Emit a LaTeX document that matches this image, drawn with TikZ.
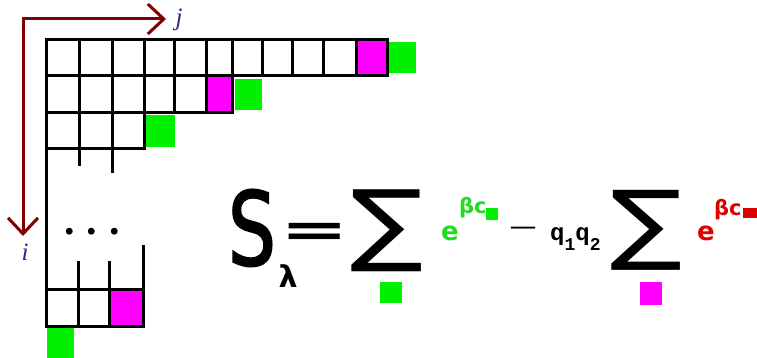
\documentclass[tikz,border=0pt]{standalone}
\usepackage{fontspec}
\usepackage{graphicx}
\usetikzlibrary{arrows.meta}
\newfontfamily\djs{DejaVu Sans}
\newfontfamily\djsfb[FakeBold=2]{DejaVu Sans}
\newfontfamily\cour{Liberation Mono}
\newfontfamily\ser{Liberation Serif}
\definecolor{arrowred}{RGB}{128,0,0}
\definecolor{lblblue}{RGB}{40,40,140}
\definecolor{cellgreen}{RGB}{0,240,0}
\definecolor{textgreen}{RGB}{30,220,30}
\definecolor{cellmag}{RGB}{255,0,255}
\definecolor{textred}{RGB}{220,0,0}
\begin{document}
\begin{tikzpicture}[x=1pt,y=-1pt,
  gridline/.style={line width=3pt, line cap=rect},
  axis/.style={line width=3pt, arrowred, line join=miter,
    {Straight Barb[length=16pt,width=30pt]}-{Straight Barb[length=16pt,width=30pt]}},
  lbl/.style={lblblue, font=\ser\itshape\fontsize{25}{25}\selectfont, inner sep=0pt},
  big/.style={inner sep=0pt, outer sep=0pt},
  expo/.style={inner sep=0pt, anchor=base west, font=\djs\bfseries\fontsize{26}{26}\selectfont},
  supo/.style={inner sep=0pt, anchor=base west, font=\djs\bfseries\fontsize{21}{21}\selectfont}]
\useasboundingbox (0,0) rectangle (757,358);
% coloured cells
\fill[cellmag] (356,40) rectangle (387,76);
\fill[cellmag] (206,76) rectangle (232,113);
\fill[cellmag] (109,289) rectangle (143,326);
\fill[cellgreen] (388,42) rectangle (416,73);
\fill[cellgreen] (235,79) rectangle (262,110);
\fill[cellgreen] (145,115) rectangle (175,147);
\fill[cellgreen] (47,327) rectangle (74,358);
% grid
\draw[gridline] (46,40) -- (387,40);
\draw[gridline] (46,76) -- (387,76);
\draw[gridline] (46,113) -- (232,113);
\draw[gridline] (46,149) -- (144,149);
\draw[gridline] (46,40) -- (46,326);
\draw[gridline] (79,40) -- (79,165);
\draw[gridline] (112,40) -- (112,172);
\draw[gridline] (144,40) -- (144,149);
\foreach \x in {174,206,232} \draw[gridline] (\x,40) -- (\x,113);
\foreach \x in {262,292,323,356,387} \draw[gridline] (\x,40) -- (\x,76);
\draw[gridline] (46,289) -- (143,289);
\draw[gridline] (46,326) -- (143,326);
\draw[gridline] (78,262) -- (78,326);
\draw[gridline] (109,262) -- (109,326);
\draw[gridline] (143,246) -- (143,326);
% dots
\node[big, font=\ser\bfseries\fontsize{42}{42}\selectfont] (dots) at (92,232) {.\hspace{12pt}.\hspace{12pt}.};
% axes
\coordinate (o) at (23,19);
\coordinate (jt) at (166,19);
\coordinate (it) at (23,236);
\draw[axis] (jt) -- (o) -- (it);
\node[lbl] (j) at (179,20) {j};
\node[lbl] (i) at (25,252) {i};
% formula
\node[big] (S) at (252,228) {\resizebox*{48pt}{77pt}{\djsfb S}};
\node[big, font=\djs\bfseries\fontsize{30}{30}\selectfont] (lam) at (288,276) {λ};
\node[big] (eq) at (315,235) {\scalebox{1.7}[1]{\djs\bfseries\fontsize{48}{48}\selectfont =}};
\node[big] (sum1) at (387,231) {\resizebox*{73pt}{82pt}{\djs ∑}};
\fill[cellgreen] (380,282) rectangle (402,303);
\node[expo, textgreen] (e1) at (441,240) {e};
\node[supo, textgreen] (b1) at (459,213) {βc};
\fill[cellgreen] (486,208) rectangle (498,220);
\node[big, font=\djs\fontsize{27}{27}\selectfont] (minus) at (523,231) {—};
\node[inner sep=0pt, anchor=base west, font=\cour\bfseries\fontsize{24}{24}\selectfont] (q) at (550,240) {q\raisebox{-10pt}{\fontsize{18}{18}\selectfont 1}q\raisebox{-10pt}{\fontsize{18}{18}\selectfont 2}};
\node[big] (sum2) at (647,230) {\resizebox*{72pt}{80pt}{\djs ∑}};
\fill[cellmag] (640,282) rectangle (662,305);
\node[expo, textred] (e2) at (697,240) {e};
\node[supo, textred] (b2) at (714,215) {βc};
\fill[textred] (743,208) rectangle (757,218);
\end{tikzpicture}
\end{document}
